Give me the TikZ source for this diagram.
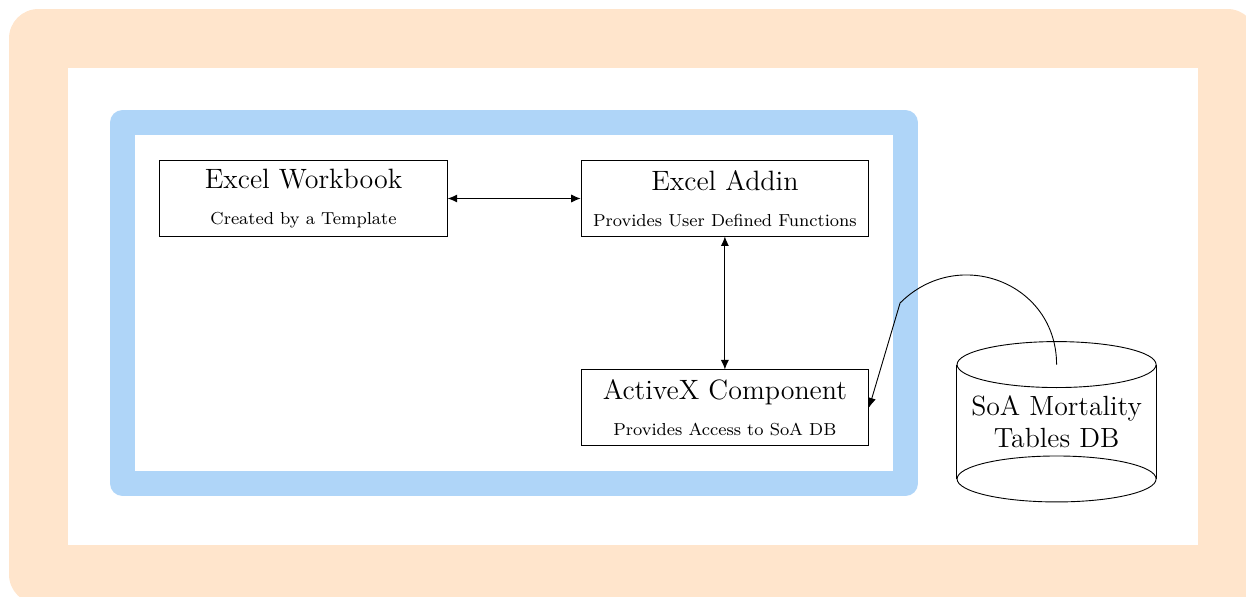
\documentclass[tikz,border=0pt]{standalone}
\usepackage{fontspec}
\usepackage{tikz}
\usetikzlibrary{arrows.meta,positioning}
\definecolor{outerframe}{RGB}{255,229,204}
\definecolor{innerframe}{RGB}{175,213,248}
\newcommand{\titlesize}{\fontsize{12.4pt}{15pt}\selectfont}
\newcommand{\notesize}{\fontsize{7.7pt}{9pt}\selectfont}
\tikzset{
  component/.style={draw, minimum width=4.48cm, minimum height=33.3pt, align=center},
  database/.style={minimum width=3.1cm, minimum height=1.768cm, inner sep=0pt,
    align=center, font=\fontsize{12.3pt}{14.5pt}\selectfont}
}

\begin{document}
\begin{tikzpicture}[>={Latex[length=4.2pt,width=3.6pt]}]
\useasboundingbox (0,0) rectangle (19.41,-9.285);
% frames
\draw[outerframe, line width=26pt, line join=round] (0.597,-0.597) rectangle (19.12,-8.947);
\draw[innerframe, line width=11pt, line join=round] (1.908,-1.908) rectangle (14.105,-7.531);

% components
\node[component] (workbook) at (4.728,-3.092)
  {{\titlesize Excel Workbook}\\[4pt]{\notesize Created by a Template}};
\node[component, right=2.07cm of workbook] (addin)
  {{\titlesize Excel Addin}\\[4pt]{\notesize Provides User Defined Functions}};
\node[component, below=2.07cm of addin] (activex)
  {{\titlesize ActiveX Component}\\[4pt]{\notesize Provides Access to SoA DB}};

% database
\node[database] (db) at (16.459,-6.57) {SoA Mortality\\Tables DB};
\draw (db.north west) -- (db.south west)
      (db.north east) -- (db.south east);
\draw (db.north) ellipse (1.55 and 0.358);
\draw (db.south) ellipse (1.55 and 0.358);
\coordinate (bend) at (14.021,-4.720);

% connections
\draw[<->] (workbook) -- (addin);
\draw[<->] (addin) -- (activex);
\draw[->] (db.north) to[out=90, in=45, looseness=1.25] (bend) -- (activex.east);
\end{tikzpicture}
\end{document}
